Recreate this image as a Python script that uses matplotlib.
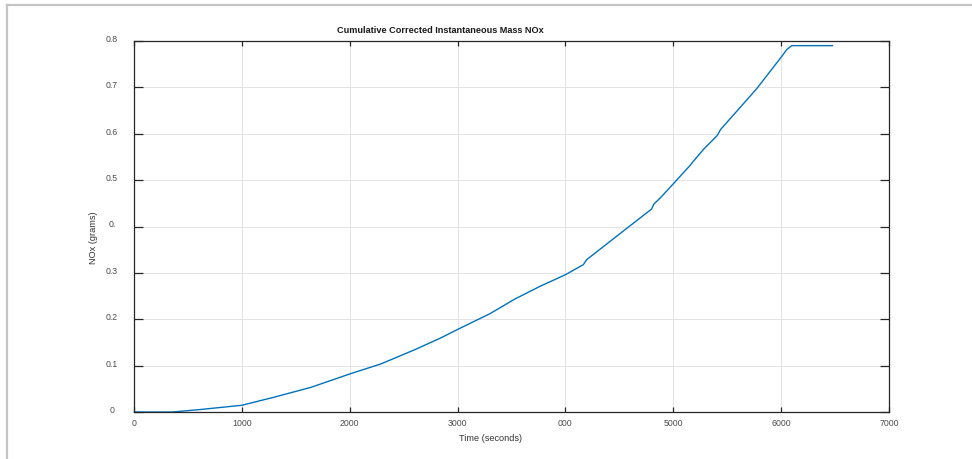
import matplotlib
matplotlib.use("Agg")
import matplotlib.pyplot as plt
from matplotlib.lines import Line2D

plt.rcParams['font.family'] = ['Liberation Sans', 'DejaVu Sans']

# data
time_s = [0, 355, 600, 1000, 1300, 1638, 2000, 2287, 2600, 2838, 3000, 3300,
          3532, 3764, 4000, 4166, 4197, 4475, 4799, 4820, 4877, 5000, 5153, 5184,
          5283, 5407, 5438, 5771, 6000, 6051, 6098, 6476]
nox_g = [0, 0, 0.005, 0.0145, 0.032, 0.053, 0.082, 0.1035, 0.134, 0.159, 0.178,
         0.212, 0.2437, 0.271, 0.296, 0.3177, 0.3285, 0.379, 0.4377, 0.4485, 0.461,
         0.492, 0.531, 0.540, 0.567, 0.596, 0.609, 0.6965, 0.765, 0.7813, 0.790, 0.790]

xticks = [0, 1000, 2000, 3000, 4000, 5000, 6000, 7000]
xticklabels = ["0", "1000", "2000", "3000", "000", "5000", "6000", "7000"]
yticks = [0, 0.1, 0.2, 0.3, 0.4, 0.5, 0.6, 0.7, 0.8]
yticklabels = ["0", "0.1", "0.2", "0.3", "0.", "0.5", "0.6", "0.7", "0.8"]

title = "Cumulative Corrected Instantaneous Mass NOx"
xlabel = "Time (seconds)"
ylabel = "NOx (grams)"

W, H = 972, 460
fig = plt.figure(figsize=(W / 100, H / 100), dpi=100)
fig.patch.set_facecolor('white')

L, R, T, B = 134, 889, 42, 413
ax = fig.add_axes([L / W, 1 - B / H, (R - L) / W, (B - T) / H])

ax.plot(time_s, nox_g, color='#0072BD', lw=1.0)
ax.set_xlim(0, 7000)
ax.set_ylim(0, 0.8)

ax.set_xticks(xticks)
ax.set_xticklabels(xticklabels)
ax.set_yticks(yticks)
ax.set_yticklabels(yticklabels, ha='center', va='baseline')

ax.grid(True, color='#e3e3e3', lw=0.7)
ax.set_axisbelow(True)

for s in ax.spines.values():
    s.set_color('#262626')
    s.set_linewidth(0.9)

ax.tick_params(axis='x', direction='in', length=3.8, width=0.9, color='#262626',
               top=True, bottom=True, labelsize=6.3, labelcolor='#4d4d4d', pad=4.5)
ax.tick_params(axis='y', direction='in', length=6.3, width=0.9, color='#262626',
               left=True, right=True, labelsize=6.3, labelcolor='#4d4d4d', pad=16)

fig.text(440 / W, 1 - 31 / H, title, ha='center', va='center',
         fontsize=6.6, fontweight='bold', color='#1a1a1a')
fig.text(490 / W, 1 - 439 / H, xlabel, ha='center', va='center',
         fontsize=6.6, color='#333333')
fig.text(93 / W, 1 - 238 / H, ylabel, ha='center', va='center', rotation=90,
         fontsize=6.6, color='#333333')

# figure frame lines (top and left)
fig.add_artist(Line2D([7 / W, 1], [1 - 6 / H, 1 - 6 / H], transform=fig.transFigure,
                      color='#c4c4c4', lw=1.6))
fig.add_artist(Line2D([7 / W, 7 / W], [0, 1 - 6 / H], transform=fig.transFigure,
                      color='#c4c4c4', lw=1.6))

fig.savefig('out.png', dpi=100)
